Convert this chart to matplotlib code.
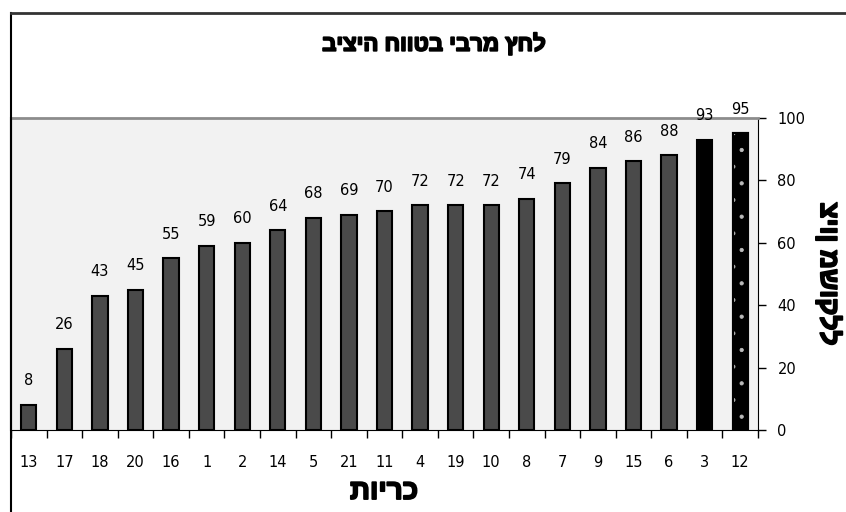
import matplotlib.pyplot as plt
import matplotlib.patheffects as pe
from matplotlib.lines import Line2D
import numpy as np

plt.rcParams['font.family'] = ['DejaVu Sans']
plt.rcParams['hatch.linewidth'] = 0.6

# pillow ids, sorted by weighted score
pillows = ['13', '17', '18', '20', '16', '1', '2', '14', '5', '21', '11',
           '4', '19', '10', '8', '7', '9', '15', '6', '3', '12']
scores = [8, 26, 43, 45, 55, 59, 60, 64, 68, 69, 70,
          72, 72, 72, 74, 79, 84, 86, 88, 93, 95]
yticks = [0, 20, 40, 60, 80, 100]

title = 'לחץ מרבי בטווח היציב'
xlabel = 'כריות'
ylabel = 'ציון משוקלל'

fig = plt.figure(figsize=(8.46, 5.12), dpi=100)
ax = fig.add_axes([0.013, 0.160, 0.883, 0.610])
ax.set_facecolor('#f2f2f2')

x = np.arange(len(pillows))
colors = ['#4a4a4a'] * len(pillows)
colors[-2] = 'black'
colors[-1] = 'black'
bars = ax.bar(x, scores, width=0.43, color=colors, edgecolor='black',
              linewidth=1.5, zorder=3)

# dotted fill for the last bar
ax.bar(x[-1], scores[-1], width=0.43, color='black', edgecolor='#bbbbbb',
       hatch='.', linewidth=0, zorder=3)
ax.bar(x[-1], scores[-1], width=0.43, fill=False, edgecolor='black',
       linewidth=1.5, zorder=4)

for xi, s in zip(x, scores):
    ax.annotate(f'{s}', (xi, s), xytext=(0, 12), textcoords='offset points',
                ha='center', va='bottom', fontsize=10.5)

ax.set_xlim(-0.5, len(pillows) - 0.5)
ax.set_ylim(0, 100)

ax.set_xticks(x)
ax.set_xticklabels(pillows, fontsize=10.5)
ax.set_xticks(np.arange(len(pillows) + 1) - 0.5, minor=True)
ax.tick_params(axis='x', which='major', length=0, pad=18)
ax.tick_params(axis='x', which='minor', length=6, width=1, direction='out')

ax.yaxis.tick_right()
ax.set_yticks(yticks)
ax.tick_params(axis='y', length=6, width=1, direction='out', labelsize=10.5,
               pad=8)

ax.spines['top'].set_color('#8c8c8c')
ax.spines['top'].set_linewidth(2)
ax.spines['left'].set_color('black')
ax.spines['left'].set_linewidth(1.5)
ax.spines['right'].set_color('black')
ax.spines['bottom'].set_color('black')

# Hebrew is laid out right-to-left, so reverse for matplotlib's LTR layout;
# a thin stroke thickens the glyphs since the bold face has no Hebrew
heb = ['Liberation Sans', 'DejaVu Sans']
thick = [pe.withStroke(linewidth=1.3, foreground='black')]
fig.text(0.513, 0.912, title[::-1], ha='center', va='center', family=heb,
         fontsize=16, fontweight='bold', path_effects=thick)
fig.text(0.454, 0.039, xlabel[::-1], ha='center', va='center', family=heb,
         fontsize=20, fontweight='bold', path_effects=thick)
fig.text(0.980, 0.465, ylabel, ha='center', va='center', rotation=-90,
         family=heb, fontsize=19, fontweight='bold', path_effects=thick)

# chart frame
fig.add_artist(Line2D([0.013, 0.013], [0.0, 0.975], color='black', lw=1.5))
fig.add_artist(Line2D([0.013, 1.0], [0.975, 0.975], color='#333333', lw=2))

fig.savefig('out.png', dpi=100)
